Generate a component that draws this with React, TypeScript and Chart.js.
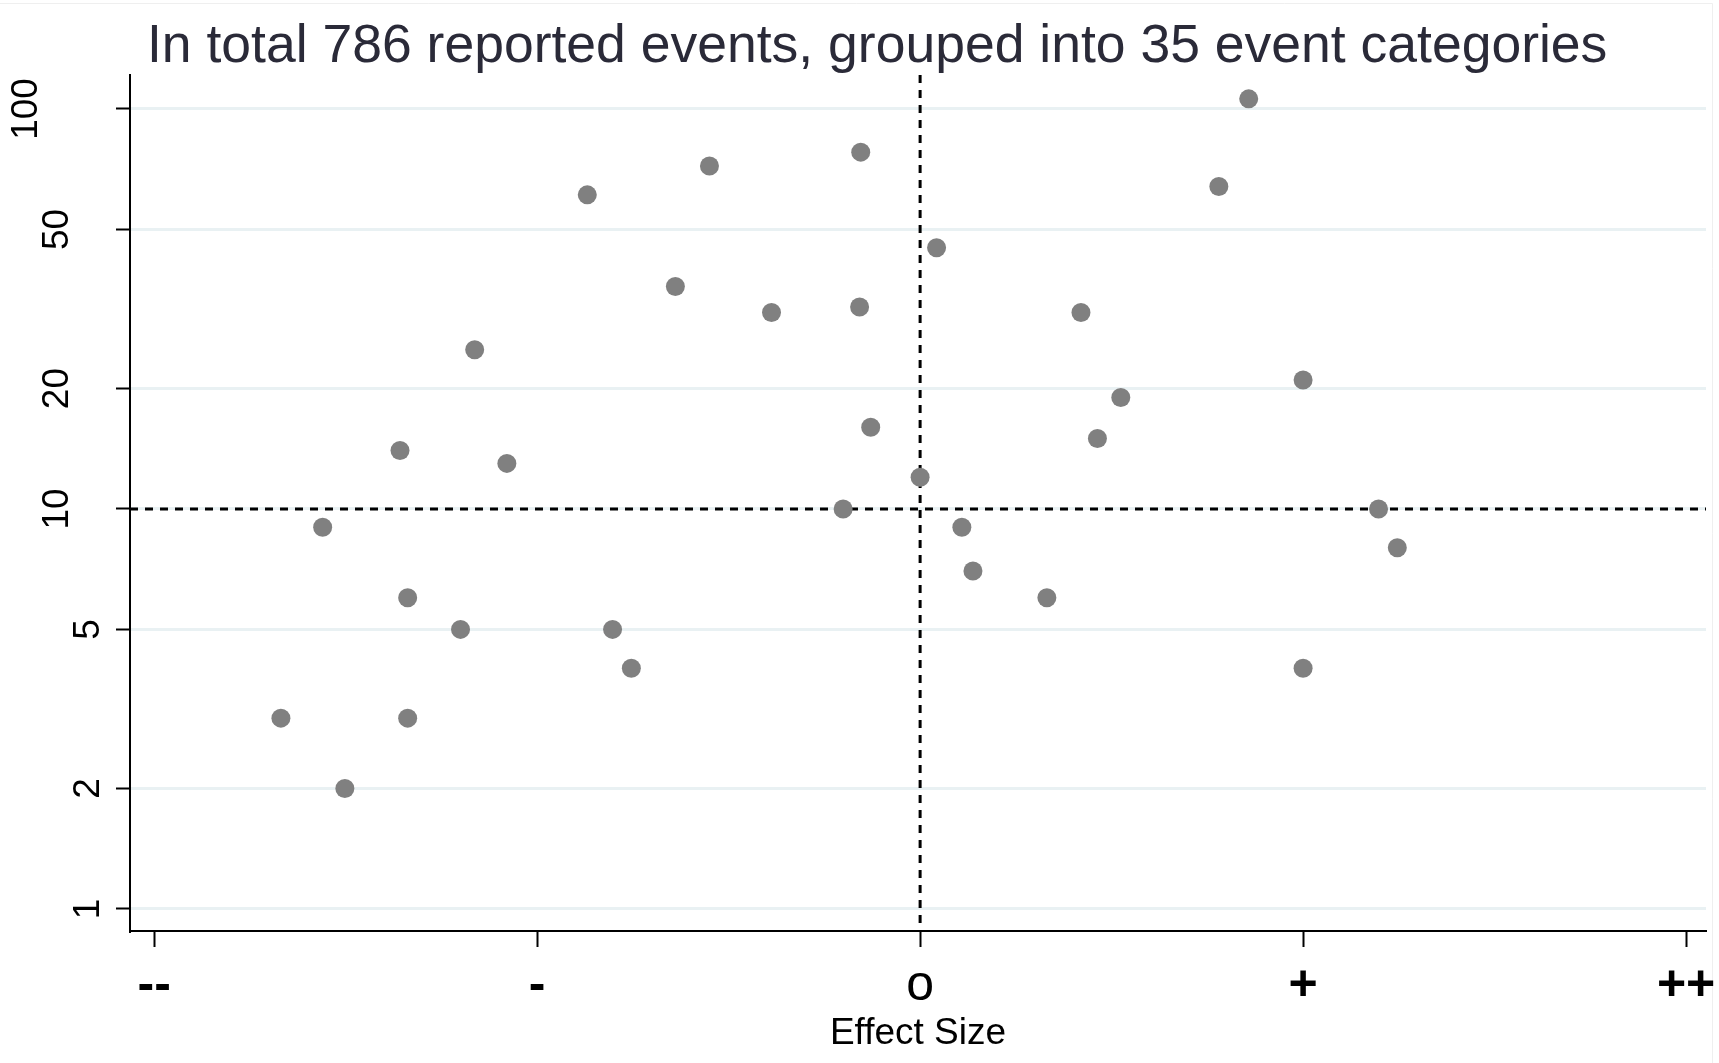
import React, { useEffect, useRef } from 'react';
import { Chart, registerables } from 'chart.js';

Chart.register(...registerables);

const FONT = '"Liberation Sans", Arial, Helvetica, sans-serif';

const TITLE = 'In total 786 reported events, grouped into 35 event categories';
const X_TITLE = 'Effect Size';

const X_TICK_VALUES = [-2, -1, 0, 1, 2];
const X_TICK_LABELS = ['--', '-', 'o', '+', '++'];

const Y_TICK_VALUES = [1, 2, 5, 10, 20, 50, 100];
const Y_TICK_LABELS = ['1', '2', '5', '10', '20', '50', '100'];

// effect size (x, -2 .. 2) and number of reported events (y, log scale)
const EFFECT = [
  0.858, -0.155, -0.55, -0.869, 0.78, 0.043, -0.639, -0.388, -0.158, 0.42,
  -1.163, 1.0, 0.524, -0.129, 0.463, -1.358, -1.079, 0.0, -0.201, 1.197,
  -1.56, 0.109, 1.246, 0.138, -1.338, 0.331, -1.2, -0.803, -0.754, 1.0,
  -1.669, -1.338, -1.502,
];
const EVENTS = [
  106, 78, 72, 61, 64, 45, 36, 31, 32, 31,
  25, 21, 19, 16, 15, 14, 13, 12, 10, 10,
  9, 9, 8, 7, 6, 6, 5, 5, 4, 4,
  3, 3, 2,
];

const REF_X = 0;
const REF_Y = 10;

const X_MIN = -2.063;
const X_MAX = 2.052;
const Y_MIN = 0.881;
const Y_MAX = 121.6;

const overlayPlugin = {
  id: 'overlay',
  beforeDraw(chart: any) {
    const { ctx, width } = chart;
    ctx.save();
    ctx.strokeStyle = '#efefef';
    ctx.lineWidth = 1;
    ctx.beginPath();
    ctx.moveTo(0, 3.5);
    ctx.lineTo(width - 6.5, 3.5);
    ctx.lineTo(width - 6.5, chart.height);
    ctx.stroke();
    ctx.restore();
  },
  beforeDatasetsDraw(chart: any) {
    const { ctx, chartArea, scales } = chart;
    const x0 = scales.x.getPixelForValue(REF_X);
    const y0 = scales.y.getPixelForValue(REF_Y);
    ctx.save();
    ctx.strokeStyle = '#000';
    ctx.lineWidth = 3;
    ctx.setLineDash([8, 7]);
    ctx.beginPath();
    ctx.moveTo(x0, chartArea.top);
    ctx.lineTo(x0, chartArea.bottom);
    ctx.stroke();
    ctx.beginPath();
    ctx.moveTo(chartArea.left, y0);
    ctx.lineTo(chartArea.right, y0);
    ctx.stroke();
    ctx.restore();
  },
  afterDraw(chart: any) {
    const { ctx, scales } = chart;
    ctx.save();
    ctx.font = `53.5px ${FONT}`;
    ctx.fillStyle = '#2a2a38';
    ctx.textAlign = 'left';
    ctx.textBaseline = 'alphabetic';
    ctx.fillText(TITLE, 147, 62);

    ctx.font = `37px ${FONT}`;
    ctx.fillStyle = '#000';
    ctx.textAlign = 'center';
    ctx.textBaseline = 'alphabetic';
    const yScale = scales.y;
    Y_TICK_VALUES.forEach((v, i) => {
      const label = Y_TICK_LABELS[i];
      const py = yScale.getPixelForValue(v);
      const bx = yScale.right - 31 - 31 * (label.length - 1);
      ctx.save();
      ctx.translate(bx, py);
      ctx.rotate(-Math.PI / 2);
      ctx.fillText(label, 0, 0);
      ctx.restore();
    });
    ctx.restore();
  },
};

export default function App() {
  const canvasRef = useRef<HTMLCanvasElement | null>(null);

  useEffect(() => {
    const canvas = canvasRef.current;
    if (!canvas) return;
    const points = EFFECT.map((x, i) => ({ x, y: EVENTS[i] }));
    const chart = new Chart(canvas, {
      type: 'scatter',
      data: {
        datasets: [
          {
            data: points,
            backgroundColor: '#808080',
            borderWidth: 0,
            pointRadius: 9.5,
            pointHoverRadius: 9.5,
          },
        ],
      },
      options: {
        responsive: false,
        animation: false,
        devicePixelRatio: 1,
        layout: { padding: { top: 75, right: 13, bottom: 0, left: 0 } },
        plugins: {
          legend: { display: false },
          title: { display: false },
          tooltip: { enabled: false },
        },
        scales: {
          x: {
            type: 'linear',
            min: X_MIN,
            max: X_MAX,
            afterBuildTicks: (s: any) => {
              s.ticks = X_TICK_VALUES.map((v) => ({ value: v }));
            },
            afterFit: (s: any) => {
              s.height = 132;
              s.paddingLeft = 0;
              s.paddingRight = 0;
            },
            grid: {
              drawOnChartArea: false,
              drawTicks: true,
              tickLength: 16,
              tickColor: '#000',
              tickWidth: 2,
              color: '#000',
            },
            border: { display: true, color: '#000', width: 2 },
            ticks: {
              padding: 9,
              color: '#000',
              autoSkip: false,
              maxRotation: 0,
              minRotation: 0,
              font: (ctx: any) => ({
                family: FONT,
                size: 50,
                weight: X_TICK_LABELS[ctx.index] === 'o' ? 'normal' : 'bold',
              }),
              callback: (value: any) => {
                const idx = X_TICK_VALUES.indexOf(Number(value));
                return idx >= 0 ? X_TICK_LABELS[idx] : '';
              },
            },
            title: {
              display: true,
              text: X_TITLE,
              color: '#000',
              font: { family: FONT, size: 37 },
              padding: { top: 0, bottom: 7 },
            },
          },
          y: {
            type: 'logarithmic',
            min: Y_MIN,
            max: Y_MAX,
            afterBuildTicks: (s: any) => {
              s.ticks = Y_TICK_VALUES.map((v) => ({ value: v }));
            },
            afterFit: (s: any) => {
              s.width = 130;
            },
            grid: {
              color: '#e9f1f3',
              lineWidth: 3,
              drawTicks: true,
              tickLength: 14,
              tickColor: '#000',
              tickWidth: 2,
            },
            border: { display: true, color: '#000', width: 2 },
            ticks: { display: false },
          },
        },
      },
      plugins: [overlayPlugin],
    } as any);
    return () => chart.destroy();
  }, []);

  return (
    <div
      style={{
        position: 'absolute',
        left: 0,
        top: 0,
        width: 1719,
        height: 1063,
        background: '#fff',
      }}
    >
      <canvas ref={canvasRef} width={1719} height={1063} style={{ display: 'block' }} />
    </div>
  );
}
